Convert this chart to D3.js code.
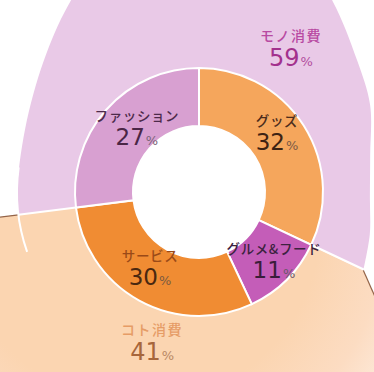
<!DOCTYPE html>
<html>
<head>
<meta charset="utf-8">
<script src="https://cdn.jsdelivr.net/npm/d3@7"></script>
<style>
  body { margin: 0; background: #fff; }
  svg { display: block; }
</style>
</head>
<body>
<svg id="chart" width="374" height="372"></svg>
<script>
// Inner ring: spending categories (percent)
const innerCategories = ["グッズ", "グルメ&フード", "サービス", "ファッション"];
const innerValues = [32, 11, 30, 27];
// Outer ring: goods vs. experience spending (percent)
const outerCategories = ["モノ消費", "コト消費"];
const outerValues = [59, 41];
// Which inner categories belong to each outer group
const outerMembers = [["ファッション", "グッズ"], ["グルメ&フード", "サービス"]];

// Colours
const innerColors = ["#f5a65c", "#c45db8", "#f08c33", "#d8a0d1"];
const outerColors = ["#e9c9e7", "#fbd5b1"];
const innerNameColors = ["#4b2c1c", "#3c2340", "#9a4a18", "#4c2a4a"];
const innerNumColors = ["#3e2313", "#3a1d3a", "#4a2810", "#4a2646"];
const innerPctColors = ["#7a5a46", "#6a586a", "#7a5a40", "#7a6478"];
const outerNameColors = ["#b84aa2", "#e69c66"];
const outerNumColors = ["#a3318d", "#a7663b"];
const outerPctColors = ["#b24e9e", "#b98864"];

// Label placement in polar form: [angle in degrees clockwise from top, radius]
const innerLabelPlace = [[61.7, 88.6], [138.9, 114], [207.8, 105], [307.2, 78]];
const outerLabelPlace = [[36.1, 156], [195.6, 174.5]];

// Outline of the goods-spending panel: [angle deg, radius]
const monoOutline = [
  [-97.2, 182], [-90, 182], [-70, 185], [-50, 203], [-35, 228], [-20, 262],
  [0, 288], [20, 270], [35, 233], [50, 206], [63, 192], [78, 175],
  [92, 171], [104, 176], [115.5, 182]
];
// Outline of the experience-spending panel: [angle deg, radius]
const kotoOutline = [[115.5, 182], [135, 330], [180, 360], [225, 360], [262.8, 330], [262.8, 182]];

const cx = 199, cy = 192;
const rHole = 66, rInner = 124, rOuter = 182;

const svg = d3.select("#chart");
const defs = svg.append("defs");
const g = svg.append("g").attr("transform", `translate(${cx},${cy})`);

const rad = d => d * Math.PI / 180;
const deg = a => a * 180 / Math.PI;
const polar = (d, r) => [r * Math.sin(rad(d)), -r * Math.cos(rad(d))];

// Inner pie, starting at 12 o'clock
const innerPie = d3.pie().sort(null).value(d => d.value);
const innerArcs = innerPie(innerCategories.map((c, i) => ({ name: c, value: innerValues[i], i })));

// Outer pie begins where the first member of the first group begins
const firstMember = innerArcs.find(a => a.data.name === outerMembers[0][0]);
const outerStart = firstMember.startAngle - 2 * Math.PI;
const outerPie = d3.pie().sort(null).value(d => d.value)
  .startAngle(outerStart).endAngle(outerStart + 2 * Math.PI);
const outerArcs = outerPie(outerCategories.map((c, i) => ({ name: c, value: outerValues[i], i })));
const kotoStartDeg = deg(outerArcs[1].startAngle);
const kotoEndDeg = deg(outerArcs[1].endAngle);

// Experience panel with its ring segment (peach, fading to the lower right)
const grad = defs.append("radialGradient").attr("id", "kotoFade")
  .attr("gradientUnits", "userSpaceOnUse")
  .attr("cx", -60).attr("cy", 30).attr("r", 330);
grad.append("stop").attr("offset", 0.55).attr("stop-color", outerColors[1]);
grad.append("stop").attr("offset", 0.75).attr("stop-color", "#fcdcc2");
grad.append("stop").attr("offset", 0.9).attr("stop-color", "#fdebdc");
grad.append("stop").attr("offset", 1).attr("stop-color", "#fff6ee");

const kotoPts = kotoOutline.map(([a, r]) => polar(a, r));
g.append("path")
  .attr("d", "M0,0L" + kotoPts.map(p => p.join(",")).join("L") + "Z")
  .attr("fill", "url(#kotoFade)");
g.append("path")
  .attr("d", d3.line()([kotoPts[0], kotoPts[1]]))
  .attr("stroke", "#946448").attr("stroke-width", 1.2).attr("fill", "none");
g.append("path")
  .attr("d", d3.line()([kotoPts[kotoPts.length - 1], kotoPts[kotoPts.length - 2]]))
  .attr("stroke", "#946448").attr("stroke-width", 1.2).attr("fill", "none");

// Goods panel (lavender), merged with its ring segment
const monoCurve = d3.lineRadial()
  .angle(d => rad(d[0])).radius(d => d[1])
  .curve(d3.curveCatmullRom);
g.append("path")
  .attr("d", monoCurve(monoOutline) + "L0,0Z")
  .attr("fill", outerColors[0]);

// White rim of the outer ring on the left
g.append("path")
  .attr("d", d3.arc().innerRadius(rOuter - 1).outerRadius(rOuter + 1)
    .startAngle(rad(kotoEndDeg - 12)).endAngle(rad(kotoEndDeg + 15))())
  .attr("fill", "#fff");

// Dividers between the two outer groups
[kotoStartDeg, kotoEndDeg].forEach(a => {
  g.append("path")
    .attr("d", d3.line()([[0, 0], polar(a, rOuter)]))
    .attr("stroke", "#fff").attr("stroke-width", 2);
});

// Inner ring
const innerArc = d3.arc().innerRadius(rHole).outerRadius(rInner);
g.selectAll("path.inner").data(innerArcs).join("path")
  .attr("class", "inner")
  .attr("d", innerArc)
  .attr("fill", d => innerColors[d.data.i])
  .attr("stroke", "#fff").attr("stroke-width", 2);

// Centre hole
g.append("circle").attr("r", rHole).attr("fill", "#fff");

const jpFont = "'Noto Sans CJK JP', sans-serif";
const numFont = "'DejaVu Sans', sans-serif";

function addLabel(pos, name, value, nameColor, numColor, pctColor, nameSize, spacing, numSize, gap) {
  const [x, y] = pos;
  g.append("text")
    .attr("x", x).attr("y", y - gap)
    .attr("text-anchor", "middle")
    .attr("font-family", jpFont)
    .attr("font-weight", 500)
    .attr("font-size", nameSize)
    .attr("letter-spacing", spacing)
    .attr("fill", nameColor)
    .text(name);
  const t = g.append("text")
    .attr("x", x).attr("y", y)
    .attr("text-anchor", "middle")
    .attr("font-family", numFont);
  t.append("tspan").attr("font-size", numSize).attr("fill", numColor).text(value);
  t.append("tspan").attr("font-size", 13).attr("dx", 1).attr("fill", pctColor).text("%");
}

innerArcs.forEach((a, k) => {
  const [d, r] = innerLabelPlace[k];
  addLabel(polar(d, r), a.data.name, a.data.value,
    innerNameColors[k], innerNumColors[k], innerPctColors[k], 13.5, 0.6, 23, 24);
});
outerArcs.forEach((a, k) => {
  const [d, r] = outerLabelPlace[k];
  addLabel(polar(d, r), a.data.name, a.data.value,
    outerNameColors[k], outerNumColors[k], outerPctColors[k], 14, 1.5, 24, 25);
});
</script>
</body>
</html>
